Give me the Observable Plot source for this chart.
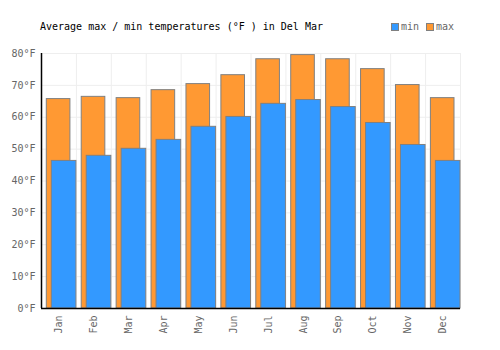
<!DOCTYPE html>
<html>
<head>
<meta charset="utf-8">
<script src="https://cdn.jsdelivr.net/npm/d3@7"></script>
<script src="https://cdn.jsdelivr.net/npm/@observablehq/plot@0.6"></script>
<style>
  html, body { margin: 0; padding: 0; background: #fff; }
  #wrap { position: relative; width: 500px; height: 350px; font-family: "DejaVu Sans Mono", monospace; }
  #title { position: absolute; left: 40px; top: 21px; font-size: 10px; color: #000; white-space: pre; }
  #legend { position: absolute; left: 391px; top: 21px; font-size: 10px; color: #666; display: flex; align-items: center; }
  .sw { display: inline-block; width: 6px; height: 6px; border: 1px solid #808080; margin-right: 2px; }
  .lab { margin-right: 7px; }
</style>
</head>
<body>
<div id="wrap">
  <div id="title">Average max / min temperatures (°F ) in Del Mar</div>
  <div id="legend"><span class="sw" style="background:#3399ff"></span><span class="lab">min</span><span class="sw" style="background:#ff9933"></span><span>max</span></div>
</div>
<script>
const months = ["Jan","Feb","Mar","Apr","May","Jun","Jul","Aug","Sep","Oct","Nov","Dec"];
const maxTemps = [65.7, 66.4, 66.0, 68.5, 70.4, 73.2, 78.2, 79.5, 78.2, 75.1, 70.1, 66.0];
const minTemps = [46.3, 47.9, 50.1, 52.9, 57.0, 60.1, 64.2, 65.4, 63.2, 58.2, 51.3, 46.3];
const yTicks = [0, 10, 20, 30, 40, 50, 60, 70, 80];

const data = months.map((m, i) => ({month: m, i, max: maxTemps[i], min: minTemps[i]}));

const chart = Plot.plot({
  width: 500,
  height: 350,
  marginLeft: 41,
  marginRight: 40,
  marginTop: 53,
  marginBottom: 42,
  style: {fontFamily: "DejaVu Sans Mono, monospace", fontSize: "10px", color: "#666", background: "transparent"},
  x: {
    domain: [0, 12],
    ticks: d3.range(12).map(i => i + 0.5),
    tickFormat: d => months[Math.floor(d)],
    tickRotate: -90,
    tickSize: 0,
    tickPadding: 7,
    label: null
  },
  y: {
    domain: [0, 80],
    ticks: yTicks,
    tickFormat: d => d + "°F",
    tickSize: 0,
    tickPadding: 6,
    label: null
  },
  marks: [
    Plot.ruleY(yTicks, {stroke: "#eeeeee", strokeWidth: 1}),
    Plot.ruleX(d3.range(1, 13), {stroke: "#eeeeee", strokeWidth: 1}),
    Plot.rectY(data, {x1: d => d.i, x2: d => d.i + 1, y: "max", fill: "#ff9933", stroke: "#808080", strokeWidth: 1, insetLeft: 5.3, insetRight: 6}),
    Plot.rectY(data, {x1: d => d.i, x2: d => d.i + 1, y: "min", fill: "#3399ff", stroke: "#808080", strokeWidth: 1, insetLeft: 10.3, insetRight: 0}),
    Plot.ruleY([0], {stroke: "#000", strokeWidth: 1.5}),
    Plot.ruleX([0], {stroke: "#000", strokeWidth: 1.5})
  ]
});
chart.style.position = "absolute";
chart.style.left = "0px";
chart.style.top = "0px";
document.getElementById("wrap").appendChild(chart);
</script>
</body>
</html>
